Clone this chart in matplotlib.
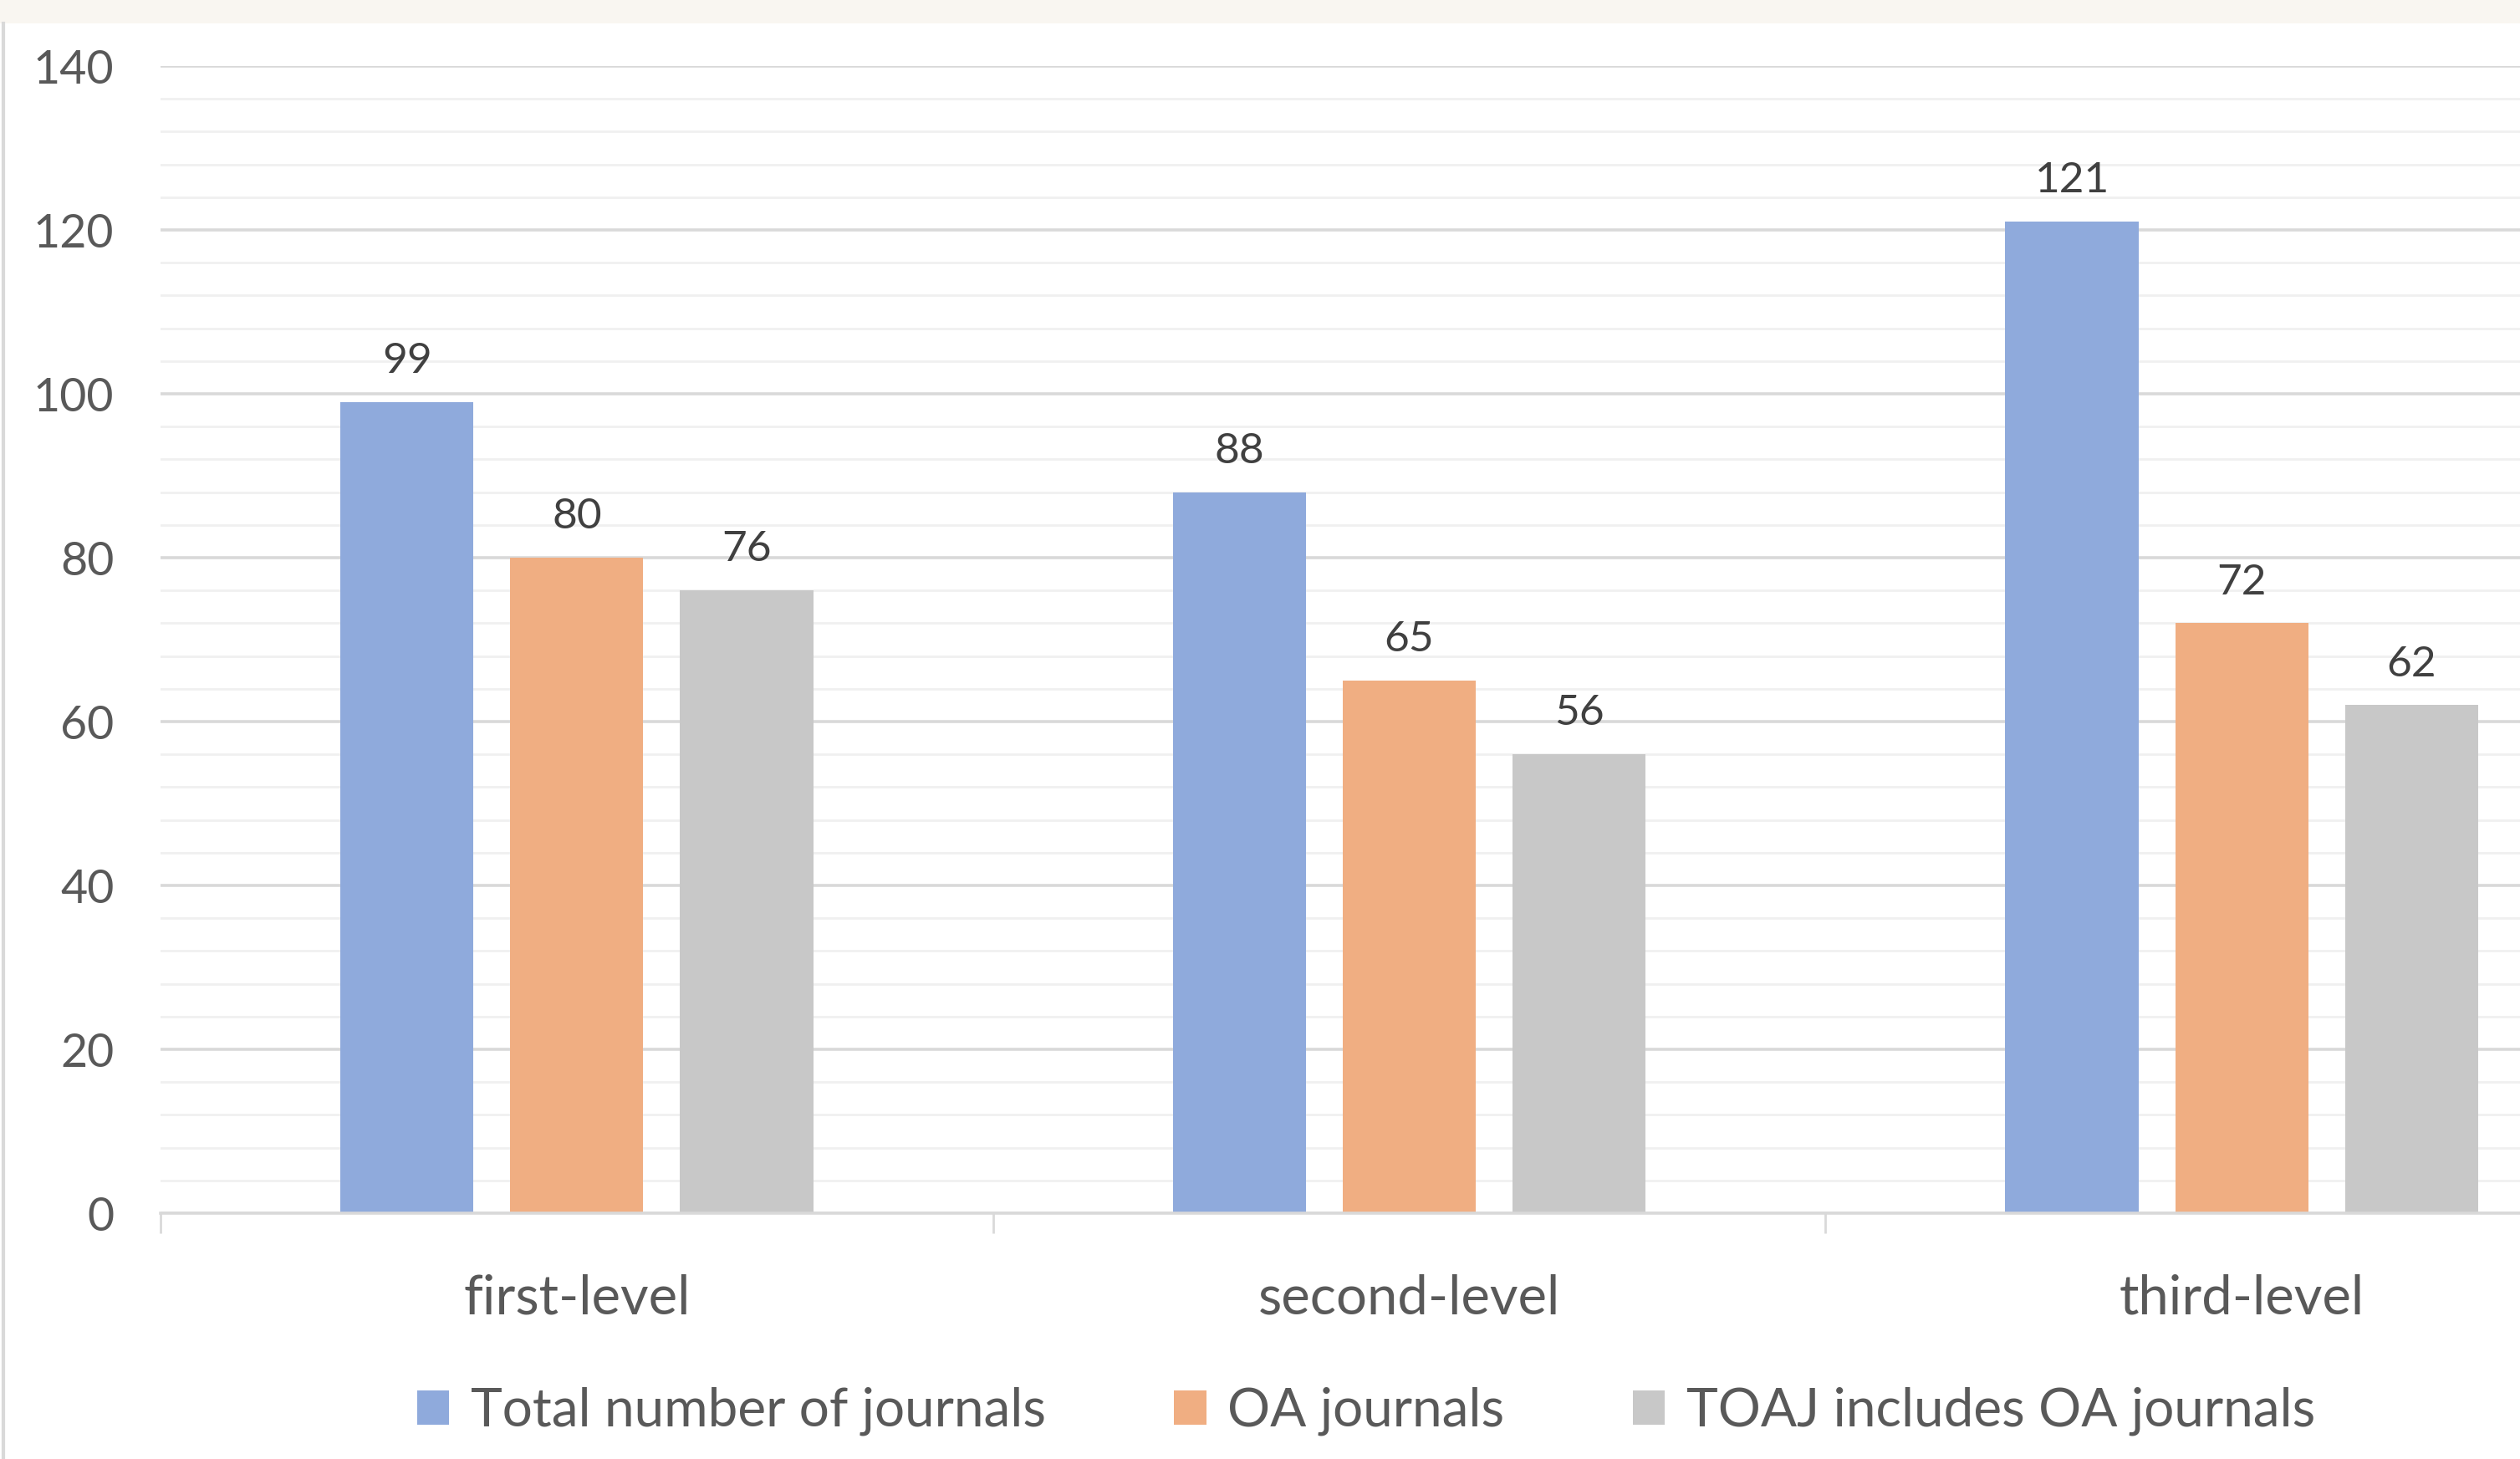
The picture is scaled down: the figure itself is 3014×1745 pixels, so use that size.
import matplotlib
matplotlib.use("Agg")
import matplotlib.pyplot as plt
from matplotlib.patches import Rectangle, Patch
from matplotlib.lines import Line2D
import numpy as np

# data
levels = ["first-level", "second-level", "third-level"]
series_names = ["Total number of journals", "OA journals", "TOAJ includes OA journals"]
total_journals = [99, 88, 121]
oa_journals = [80, 65, 72]
toaj_journals = [76, 56, 62]
y_ticks = [0, 20, 40, 60, 80, 100, 120, 140]

colors = ["#8faadc", "#f0ae82", "#c8c8c8"]
font = ["Lato", "DejaVu Sans"]
plt.rcParams["font.family"] = font

W, H, DPI = 3014, 1745, 100
fig = plt.figure(figsize=(W / DPI, H / DPI), dpi=DPI)

# axes runs past the right edge, like the cropped original
ax = fig.add_axes([192 / W, 294 / H, (3179 - 192) / W, (1451 - 79) / H])

x = np.arange(len(levels))
offsets = [-0.204, 0.0, 0.204]
width = 0.16
all_series = [total_journals, oa_journals, toaj_journals]
for vals, off, col in zip(all_series, offsets, colors):
    bars = ax.bar(x + off, vals, width, color=col, zorder=3)
    for b, v in zip(bars, vals):
        ax.annotate(str(v), (b.get_x() + b.get_width() / 2, v),
                    xytext=(0, 25), textcoords="offset points",
                    ha="center", va="baseline", fontsize=37, color="#404040")

ax.set_xlim(-0.5, 2.5)
ax.set_ylim(0, 140)
ax.set_yticks(y_ticks)
ax.set_yticks(np.arange(0, 141, 4), minor=True)
ax.grid(axis="y", which="major", color="#d9d9d9", linewidth=2.6, zorder=0)
ax.grid(axis="y", which="minor", color="#f0f0f0", linewidth=2.0, zorder=0)

ax.set_xticks(x)
ax.set_xticklabels(levels)
ax.set_xticks([-0.5, 0.5, 1.5, 2.5], minor=True)
ax.tick_params(axis="x", which="major", length=0, pad=52, labelsize=47, labelcolor="#595959")
ax.tick_params(axis="x", which="minor", length=17, width=2, color="#d9d9d9")
ax.tick_params(axis="y", which="both", length=0, pad=40, labelsize=40, labelcolor="#595959")

for s in ["top", "right", "left"]:
    ax.spines[s].set_visible(False)
ax.spines["bottom"].set_color("#d9d9d9")
ax.spines["bottom"].set_linewidth(2.6)
ax.spines["bottom"].set_zorder(4)

# legend
handles = [Patch(facecolor=c, edgecolor="none") for c in colors]
fig.legend(handles, series_names, loc="center", bbox_to_anchor=(1634 / W, 57 / H),
           ncol=3, frameon=False, fontsize=46, labelcolor="#595959",
           handlelength=0.6, handleheight=0.6, handletextpad=0.4, columnspacing=2.4)

# top band and left border of the screenshot
fig.patches.append(Rectangle((0, 1 - 28 / H), 1, 28 / H, transform=fig.transFigure,
                             facecolor="#f9f6f1", edgecolor="none", zorder=0))
fig.lines.append(Line2D([4 / W, 4 / W], [0, 1 - 28 / H], transform=fig.transFigure,
                        color="#d9d9d9", linewidth=3))

fig.savefig("out.png", dpi=DPI)
